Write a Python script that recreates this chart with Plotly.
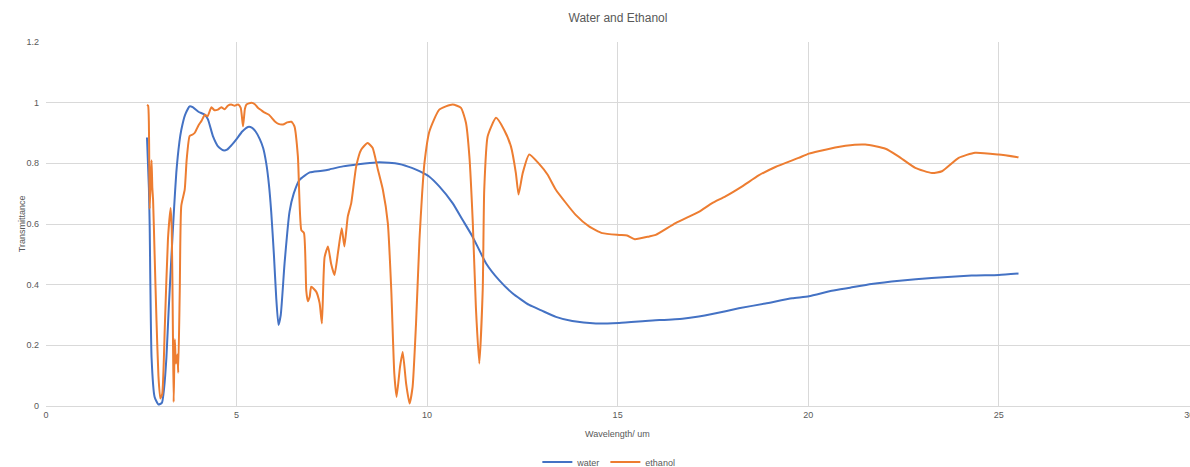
import plotly.graph_objects as go

water_x = [2.65, 2.70, 2.72, 2.77, 2.85, 2.95, 3.04, 3.10, 3.16, 3.22, 3.29, 3.36, 3.42, 3.50, 3.55,
           3.65, 3.77, 3.85, 4.0, 4.17, 4.25, 4.38, 4.52, 4.65, 4.75, 4.87, 5.0, 5.15, 5.30, 5.40,
           5.50, 5.61, 5.70, 5.78, 5.85, 5.91, 5.98, 6.04, 6.10, 6.16, 6.26, 6.39, 6.50, 6.65, 6.92,
           7.2, 7.44, 7.79, 8.2, 8.66, 9.0, 9.27, 9.6, 9.80, 10.06, 10.32, 10.67, 10.93, 11.19,
           11.55, 11.89, 12.24, 12.68, 13.0, 13.38, 13.81, 14.43, 15.04, 15.82, 16.70, 17.13, 17.48,
           18.18, 18.88, 19.58, 20.02, 20.62, 21.10, 21.66, 22.4, 23.24, 24.29, 25.0, 25.52]
water_y = [0.885, 0.72, 0.60, 0.16, 0.03, 0.005, 0.01, 0.06, 0.16, 0.32, 0.49, 0.65, 0.77, 0.87, 0.91,
           0.96, 0.988, 0.985, 0.97, 0.96, 0.945, 0.89, 0.855, 0.843, 0.845, 0.86, 0.88, 0.905, 0.92, 0.918,
           0.905, 0.88, 0.85, 0.80, 0.73, 0.64, 0.50, 0.36, 0.267, 0.30, 0.47, 0.64, 0.70, 0.745, 0.77,
           0.775, 0.78, 0.79, 0.797, 0.803, 0.802, 0.798, 0.785, 0.774, 0.756, 0.724, 0.669, 0.614, 0.559,
           0.47, 0.415, 0.372, 0.333, 0.315, 0.294, 0.28, 0.272, 0.274, 0.281, 0.288, 0.295, 0.303,
           0.322, 0.338, 0.355, 0.362, 0.38, 0.39, 0.402, 0.413, 0.422, 0.43, 0.432, 0.437]

ethanol_x = [2.65, 2.68, 2.70, 2.71, 2.72, 2.75, 2.77, 2.79, 2.81, 2.85, 2.90, 2.95, 3.00, 3.05, 3.12,
             3.20, 3.27, 3.30, 3.33, 3.35, 3.38, 3.41, 3.45, 3.47, 3.51, 3.55, 3.64, 3.69, 3.77, 3.85,
             3.90, 4.0, 4.08, 4.17, 4.24, 4.34, 4.42, 4.51, 4.60, 4.69, 4.77, 4.86, 4.95, 5.04, 5.11,
             5.17, 5.22, 5.26, 5.39, 5.48, 5.56, 5.65, 5.74, 5.85, 6.0, 6.10, 6.22, 6.33, 6.44, 6.52,
             6.61, 6.70, 6.77, 6.83, 6.87, 6.92, 6.96, 7.09, 7.18, 7.24, 7.31, 7.40, 7.48, 7.57, 7.66,
             7.76, 7.83, 7.92, 8.01, 8.14, 8.27, 8.44, 8.57, 8.71, 8.84, 8.97, 9.06, 9.14, 9.20, 9.29,
             9.36, 9.45, 9.54, 9.62, 9.71, 9.80, 9.87, 9.93, 10.06, 10.32, 10.67, 10.89, 11.02, 11.11,
             11.20, 11.28, 11.37, 11.46, 11.50, 11.59, 11.81, 12.02, 12.20, 12.33, 12.40, 12.51, 12.68,
             12.94, 13.16, 13.38, 13.90, 14.25, 14.60, 15.04, 15.25, 15.45, 15.83, 16.0, 16.52, 17.13,
             17.48, 17.83, 18.27, 18.7, 19.14, 19.75, 20.02, 20.27, 20.98, 21.5, 22.03, 22.37, 22.81,
             23.25, 23.51, 23.95, 24.38, 25.0, 25.52]
ethanol_y = [0.993, 0.99, 0.93, 0.80, 0.65, 0.75, 0.81, 0.72, 0.68, 0.50, 0.28, 0.10, 0.025, 0.04, 0.27,
             0.55, 0.653, 0.58, 0.25, 0.013, 0.22, 0.14, 0.17, 0.11, 0.38, 0.66, 0.713, 0.81, 0.89, 0.895,
             0.90, 0.925, 0.94, 0.96, 0.955, 0.985, 0.975, 0.977, 0.985, 0.978, 0.99, 0.994, 0.99, 0.994, 0.983,
             0.922, 0.98, 0.994, 1.0, 0.995, 0.983, 0.975, 0.967, 0.96, 0.939, 0.93, 0.928, 0.935, 0.937, 0.922,
             0.823, 0.58, 0.57, 0.38, 0.345, 0.36, 0.393, 0.377, 0.339, 0.272, 0.49, 0.526, 0.47, 0.432, 0.504,
             0.586, 0.526, 0.625, 0.669, 0.79, 0.845, 0.867, 0.851, 0.779, 0.713, 0.603, 0.383, 0.107, 0.03, 0.129,
             0.178, 0.074, 0.008, 0.063, 0.272, 0.548, 0.70, 0.80, 0.905, 0.977, 0.994, 0.983, 0.934, 0.823,
             0.603, 0.327, 0.14, 0.383, 0.713, 0.889, 0.95, 0.911, 0.856, 0.768, 0.697, 0.768, 0.829,
             0.798, 0.763, 0.713, 0.63, 0.592, 0.57, 0.564, 0.562, 0.55, 0.559, 0.564, 0.603, 0.64,
             0.669, 0.691, 0.724, 0.76, 0.788, 0.818, 0.832, 0.84, 0.858, 0.862, 0.848, 0.823, 0.785,
             0.768, 0.774, 0.818, 0.835, 0.829, 0.82]

x_ticks = [0, 5, 10, 15, 20, 25, 30]
y_ticks = [0, 0.2, 0.4, 0.6, 0.8, 1, 1.2]
y_tick_text = ["0", "0.2", "0.4", "0.6", "0.8", "1", "1.2"]

FONT = "Liberation Sans"
GREY = "#595959"
GRID = "#d9d9d9"

fig = go.Figure()
fig.add_trace(go.Scatter(x=water_x, y=water_y, mode="lines", name="water",
                         line=dict(color="#4472C4", width=2, shape="spline", smoothing=0.5)))
fig.add_trace(go.Scatter(x=ethanol_x, y=ethanol_y, mode="lines", name="ethanol",
                         line=dict(color="#ED7D31", width=2, shape="spline", smoothing=0.5)))

fig.update_layout(
    width=1190, height=467,
    margin=dict(l=46, r=0, t=42, b=61, autoexpand=False),
    paper_bgcolor="white", plot_bgcolor="white",
    font=dict(family=FONT, color=GREY, size=9),
    title=dict(text="Water and Ethanol", x=0.5, xref="paper", xanchor="center",
               y=1 - 18 / 467, yref="container", yanchor="middle",
               font=dict(family=FONT, size=12, color=GREY)),
    xaxis=dict(range=[0, 30.02], tickvals=x_ticks, ticktext=[str(v) for v in x_ticks],
               showgrid=True, gridcolor=GRID, gridwidth=1, zeroline=False,
               showline=True, linecolor=GRID, linewidth=1, ticks="",
               ticklabeloverflow="allow", automargin=False,
               tickfont=dict(size=9, color=GREY)),
    yaxis=dict(range=[0, 1.2], tickvals=y_ticks, ticktext=y_tick_text,
               showgrid=True, gridcolor=GRID, gridwidth=1, zeroline=False,
               showline=False, ticks="", ticklabelstandoff=6, automargin=False,
               tickfont=dict(size=9, color=GREY)),
    showlegend=True,
    legend=dict(orientation="h", x=0.492, xanchor="center", xref="paper",
                y=5 / 467, yref="container", yanchor="middle",
                font=dict(size=9, color=GREY), itemwidth=30, tracegroupgap=0),
    annotations=[
        dict(text="Wavelength/ um", x=(617 - 46) / 1144, xref="paper",
             y=-(434 - 405.7) / (405.7 - 42), yref="paper", yanchor="middle",
             showarrow=False, font=dict(size=9, color=GREY)),
        dict(text="Transmittance", x=-(46 - 15) / 1144, xref="paper",
             y=(405.7 - 224) / (405.7 - 42), yref="paper", showarrow=False,
             textangle=-90, font=dict(size=9, color=GREY)),
    ],
)

fig.write_html("out.html")
